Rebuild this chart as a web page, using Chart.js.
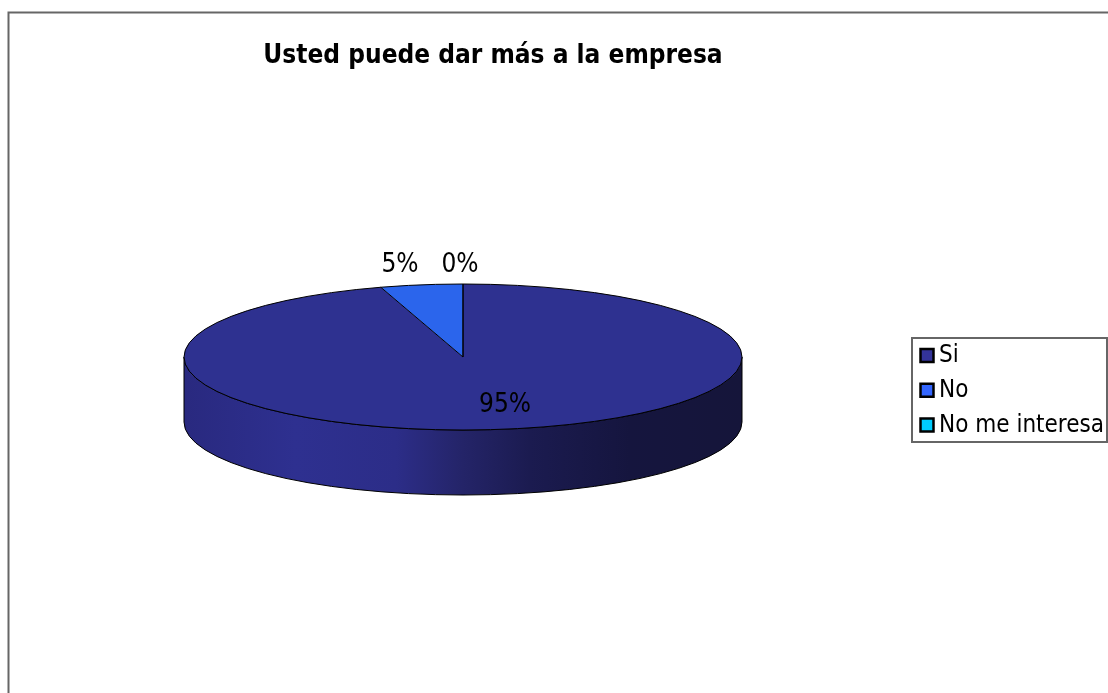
<!DOCTYPE html>
<html>
<head>
<meta charset="utf-8">
<title>Usted puede dar más a la empresa</title>
<script src="https://cdn.jsdelivr.net/npm/chart.js@4"></script>
<style>
  html, body { margin: 0; padding: 0; background: #fff; overflow: hidden; }
  canvas { display: block; }
</style>
</head>
<body>
<canvas id="myChart" width="1108" height="693"></canvas>
<script>
const tituloChart = "Usted puede dar más a la empresa";
const categorias = ["Si", "No", "No me interesa"];
const valores = [20, 1, 0]; // the 5% wedge reads as 4.76%, so 20 answers to 1
const etiquetas = ["95%", "5%", "0%"];

const coloresPie = ["#2e3190", "#2b65ec", "#00ccff"];
const coloresLeyenda = ["#333399", "#3366ff", "#00ccff"];

const fuente = "'DejaVu Sans Condensed', 'DejaVu Sans', sans-serif";
const aplastado = 73 / 279; // ellipse height / width of the top face
const grosor = 65;          // height of the side wall

// label centers, relative to the pie center
const offsetEtiquetas = [[42, 48], [-63, -92], [-3, -92]];

const pie3d = {
  id: "pie3d",
  beforeDraw(chart) {
    const ctx = chart.ctx;
    // frame
    ctx.save();
    ctx.strokeStyle = "#666";
    ctx.lineWidth = 2;
    ctx.beginPath();
    ctx.moveTo(8.5, 693);
    ctx.lineTo(8.5, 12.5);
    ctx.lineTo(1108, 12.5);
    ctx.stroke();
    ctx.restore();
  },
  beforeDatasetsDraw(chart) {
    const ctx = chart.ctx;
    const arc = chart.getDatasetMeta(0).data[0];
    const cx = arc.x, cy = arc.y, rx = arc.outerRadius, ry = rx * aplastado;

    // side wall
    const grad = ctx.createLinearGradient(cx - rx, 0, cx + rx, 0);
    grad.addColorStop(0, "#29297f");
    grad.addColorStop(0.2, "#2e3090");
    grad.addColorStop(0.38, "#2c2d88");
    grad.addColorStop(0.5, "#242468");
    grad.addColorStop(0.62, "#1b1b50");
    grad.addColorStop(0.8, "#15153e");
    grad.addColorStop(1, "#15153a");
    ctx.save();
    ctx.beginPath();
    ctx.moveTo(cx + rx, cy);
    ctx.lineTo(cx + rx, cy + grosor);
    ctx.ellipse(cx, cy + grosor, rx, ry, 0, 0, Math.PI);
    ctx.lineTo(cx - rx, cy);
    ctx.ellipse(cx, cy, rx, ry, 0, Math.PI, 0, true);
    ctx.closePath();
    ctx.fillStyle = grad;
    ctx.fill();
    ctx.strokeStyle = "#000";
    ctx.lineWidth = 1;
    ctx.stroke();
    ctx.restore();

    // squash the real pie slices into the top face
    ctx.save();
    ctx.translate(cx, cy);
    ctx.scale(1, aplastado);
    ctx.translate(-cx, -cy);
  },
  afterDatasetsDraw(chart) {
    const ctx = chart.ctx;
    ctx.restore();
    const arcs = chart.getDatasetMeta(0).data;
    const cx = arcs[0].x, cy = arcs[0].y, rx = arcs[0].outerRadius, ry = rx * aplastado;

    // outline of the top face and slice edges
    ctx.save();
    ctx.strokeStyle = "#000";
    ctx.lineWidth = 1;
    ctx.beginPath();
    ctx.ellipse(cx, cy, rx, ry, 0, 0, Math.PI * 2);
    arcs.forEach(a => {
      ctx.moveTo(cx, cy);
      ctx.lineTo(cx + rx * Math.cos(a.startAngle), cy + ry * Math.sin(a.startAngle));
    });
    ctx.stroke();
    ctx.restore();

    // data labels
    ctx.save();
    ctx.font = "26px " + fuente;
    ctx.fillStyle = "#000";
    ctx.textAlign = "center";
    ctx.textBaseline = "middle";
    etiquetas.forEach((t, i) => {
      ctx.fillText(t, cx + offsetEtiquetas[i][0], cy + offsetEtiquetas[i][1]);
    });
    ctx.restore();
  },
  afterDraw(chart) {
    const ctx = chart.ctx;
    ctx.save();
    // title
    ctx.font = "bold 26px " + fuente;
    ctx.fillStyle = "#000";
    ctx.textAlign = "center";
    ctx.textBaseline = "middle";
    ctx.fillText(tituloChart, 493, 56);

    // legend
    ctx.strokeStyle = "#666";
    ctx.lineWidth = 2;
    ctx.fillStyle = "#fff";
    ctx.beginPath();
    ctx.rect(912, 338, 195, 104);
    ctx.fill();
    ctx.stroke();

    ctx.font = "24px " + fuente;
    ctx.textAlign = "left";
    categorias.forEach((c, i) => {
      const y = 355.5 + i * 34.8;
      ctx.fillStyle = coloresLeyenda[i];
      ctx.strokeStyle = "#000";
      ctx.lineWidth = 2.5;
      ctx.beginPath();
      ctx.rect(920.5, y - 6.5, 13, 13);
      ctx.fill();
      ctx.stroke();
      ctx.fillStyle = "#000";
      ctx.fillText(c, 939, y + 0.5);
    });
    ctx.restore();
  }
};

new Chart("myChart", {
  type: "pie",
  data: {
    labels: categorias,
    datasets: [{
      data: valores,
      backgroundColor: coloresPie,
      borderWidth: 0,
      clip: false
    }]
  },
  options: {
    responsive: false,
    animation: false,
    layout: { padding: { left: 184, right: 366, top: 78, bottom: 57 } },
    plugins: {
      legend: { display: false },
      title: { display: false },
      tooltip: { enabled: false }
    }
  },
  plugins: [pie3d]
});
</script>
</body>
</html>
